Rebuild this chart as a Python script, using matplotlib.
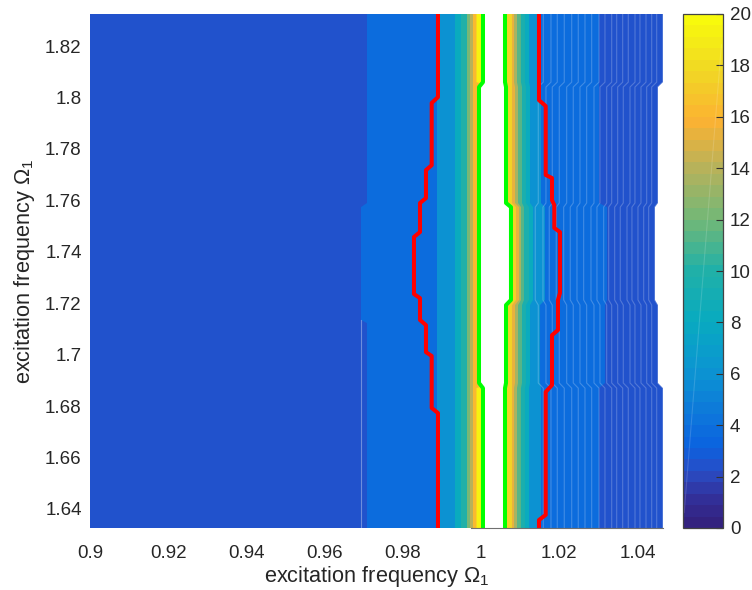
import numpy as np
import matplotlib
matplotlib.use('Agg')
import matplotlib.pyplot as plt
from matplotlib.colors import LinearSegmentedColormap, Normalize
from matplotlib.cm import ScalarMappable

plt.rcParams['font.family'] = ['Liberation Sans', 'DejaVu Sans']
plt.rcParams['mathtext.fontset'] = 'custom'
plt.rcParams['mathtext.rm'] = 'Liberation Sans'
plt.rcParams['mathtext.it'] = 'Liberation Sans'
plt.rcParams['mathtext.default'] = 'regular'

TEXT = '#262626'

# parula-like colours
cbar_values = [0, 1, 2, 3, 4, 6, 8, 10, 12, 14, 16, 18, 20]
cbar_colors = ['#33227f', '#32309a', '#2a4cc4', '#0a62e0', '#0d72dc', '#0c94d2', '#08aac0',
               '#20b0a8', '#70b878', '#b4b25c', '#fcb232', '#f0d824', '#f8fa0c']
xlim = (0.9, 1.04668)
ylim = (1.6326, 1.8325)
x_ticks = [0.9, 0.92, 0.94, 0.96, 0.98, 1.0, 1.02, 1.04]
x_labels = ['0.9', '0.92', '0.94', '0.96', '0.98', '1', '1.02', '1.04']
y_ticks = [1.64, 1.66, 1.68, 1.7, 1.72, 1.74, 1.76, 1.78, 1.8, 1.82]
y_labels = ['1.64', '1.66', '1.68', '1.7', '1.72', '1.74', '1.76', '1.78', '1.8', '1.82']

# y nodes of the five grid rows (each row has a top and a bottom node)
row_y = [1.8325, 1.8060, 1.8041, 1.7590, 1.7574, 1.7213, 1.7193, 1.6890, 1.6870, 1.6326]

# boundary of the lowest two bands on the left has its own breaks
first_edge_y = [1.8325, 1.7590, 1.7574, 1.7135, 1.7123, 1.6326]
first_edge_x = [0.97084, 0.97084, 0.96931, 0.96931, 0.97084, 0.97084]

# left edge of each amplitude band, per row, left to right
left_edges = [
    (6.0, [0.98875, 0.98875, 0.98875, 0.98875, 0.98875]),
    (8.0, [0.99335, 0.99335, 0.99335, 0.99335, 0.99335]),
    (10.0, [0.99488, 0.99488, 0.99488, 0.99488, 0.99488]),
    (12.0, [0.99642, 0.99642, 0.99642, 0.99642, 0.99642]),
    (14.0, [0.99720, 0.99720, 0.99720, 0.99720, 0.99720]),
    (16.0, [0.99796, 0.99796, 0.99796, 0.99796, 0.99796]),
    (19.5, [0.99885, 1.00300, 1.00300, 1.00300, 0.99885]),
]
right_edges = [
    (17.5, [1.00614, 1.00640, 1.00793, 1.00640, 1.00614]),
    (15.5, [1.00793, 1.00793, 1.00895, 1.00793, 1.00793]),
    (13.5, [1.00844, 1.00870, 1.00972, 1.00870, 1.00844]),
    (11.5, [1.00921, 1.00947, 1.01023, 1.00947, 1.00921]),
    (9.5, [1.01023, 1.01049, 1.01100, 1.01049, 1.01023]),
    (8.0, [1.01125, 1.01151, 1.01228, 1.01151, 1.01125]),
    (6.0, [1.01228, 1.01254, 1.01331, 1.01254, 1.01228]),
    (3.9, [1.01535, 1.01535, 1.01637, 1.01510, 1.01535]),
    (2.25, [1.03018, 1.03018, 1.03223, 1.03171, 1.03018]),
]
first_value = 3.9
base_value = 2.25
gap_left = [1.00051, 0.99949, 0.99949, 0.99949, 1.00051]
gap_right = [1.00614, 1.00640, 1.00767, 1.00640, 1.00614]
outer_right = [1.04655, 1.04527, 1.04450, 1.04527, 1.04655]

# resonance boundaries
red_left_y = [1.8325, 1.8002, 1.7979, 1.7737, 1.7718, 1.7609, 1.7590, 1.7477, 1.7458, 1.7236,
              1.7220, 1.7135, 1.7115, 1.7010, 1.6995, 1.6793, 1.6773, 1.6326]
red_left_x = [0.98900, 0.98900, 0.98739, 0.98739, 0.98593, 0.98593, 0.98440, 0.98440, 0.98286, 0.98286,
              0.98440, 0.98440, 0.98593, 0.98593, 0.98739, 0.98739, 0.98900, 0.98900]
red_right_y = [1.8325, 1.7990, 1.7967, 1.7699, 1.7687, 1.7601, 1.7582, 1.7493, 1.7477, 1.7240,
               1.7213, 1.7096, 1.7076, 1.6882, 1.6855, 1.6377, 1.6357, 1.6326]
red_right_x = [1.01483, 1.01483, 1.01655, 1.01655, 1.01816, 1.01816, 1.01875, 1.01875, 1.02020, 1.02020,
               1.01969, 1.01969, 1.01816, 1.01816, 1.01655, 1.01655, 1.01483, 1.01483]

# thin seams of the contour patches
seam_x = [1.01593, 1.01790, 1.01951, 1.02130, 1.02320, 1.02488, 1.02660, 1.02831, 1.03018, 1.03171,
          1.03343, 1.03471, 1.03624, 1.03767, 1.03939, 1.04066, 1.04220, 1.04366, 1.04494, 1.04647]
seam_shift = [0, -0.00128, -0.00205, -0.00128, 0]


def row_steps(per_row):
    # every row value is used at the top and bottom node of that row
    return np.repeat(per_row, 2)


def fill_from(ax, edge_x, edge_y, color):
    px = np.concatenate([edge_x, [xlim[1] + 0.01, xlim[1] + 0.01]])
    py = np.concatenate([edge_y, [edge_y[-1], edge_y[0]]])
    ax.fill(px, py, color=color, lw=0, zorder=3)


cmap = LinearSegmentedColormap.from_list(
    'parula_like', [(v / 20, c) for v, c in zip(cbar_values, cbar_colors)], N=45)
norm = Normalize(0, 20)

fig = plt.figure(figsize=(7.52, 5.90), dpi=100)
ax = fig.add_axes([90 / 752, 1 - 528 / 590, 573.5 / 752, 514 / 590])

ax.set_facecolor(cmap(norm(base_value)))
fill_from(ax, first_edge_x, first_edge_y, cmap(norm(first_value)))
for value, edge in left_edges:
    fill_from(ax, row_steps(edge), row_y, cmap(norm(value)))
fill_from(ax, row_steps(gap_left), row_y, 'white')
for value, edge in right_edges:
    fill_from(ax, row_steps(edge), row_y, cmap(norm(value)))

for sx in seam_x:
    ax.plot(row_steps(np.array(seam_shift) + sx), row_y, color='white', alpha=0.22, lw=0.8, zorder=3.2)
ax.plot([0.96931, 0.96931], [1.7135, 1.6326], color='white', alpha=0.35, lw=0.8, zorder=3.2)

fill_from(ax, row_steps(outer_right), row_y, 'white')

ax.plot(row_steps(gap_left), row_y, color='#00ff00', lw=2.9, zorder=4)
ax.plot(row_steps(gap_right), row_y, color='#00ff00', lw=2.9, zorder=4)
ax.plot(red_left_x, red_left_y, color='#ff0000', lw=2.9, zorder=5)
ax.plot(red_right_x, red_right_y, color='#ff0000', lw=2.9, zorder=5)

ax.set_xlim(*xlim)
ax.set_ylim(*ylim)
ax.set_xticks(x_ticks, x_labels)
ax.set_yticks(y_ticks, y_labels)
ax.tick_params(axis='x', length=0, labelsize=13.5, labelcolor=TEXT, pad=12)
ax.tick_params(axis='y', length=0, labelsize=13.5, labelcolor=TEXT, pad=6)
for side in ['top', 'left', 'right']:
    ax.spines[side].set_visible(False)
ax.spines['bottom'].set_color('#707070')
ax.spines['bottom'].set_linewidth(0.8)
ax.spines['bottom'].set_bounds(0.9975, 1.0465)
ax.spines['bottom'].set_zorder(6)
ax.set_xlabel(r'excitation frequency $\Omega_1$', fontsize=15.7, color=TEXT, labelpad=2)
ax.set_ylabel(r'excitation frequency $\Omega_1$', fontsize=15.7, color=TEXT, labelpad=6)

cax = fig.add_axes([683 / 752, 1 - 528 / 590, 40 / 752, 514 / 590])
cb = fig.colorbar(ScalarMappable(norm=norm, cmap=cmap), cax=cax, ticks=range(0, 21, 2))
cb.ax.tick_params(direction='in', length=5, width=0.8, color='#333333', labelsize=13.5, labelcolor=TEXT, pad=5)
cb.outline.set_edgecolor('#444444')
cb.outline.set_linewidth(0.9)
cb.ax.plot([0.03, 0.96], [0.03, 0.94], transform=cb.ax.transAxes, color='white', alpha=0.15, lw=0.8)

fig.savefig('out.png', dpi=100)
